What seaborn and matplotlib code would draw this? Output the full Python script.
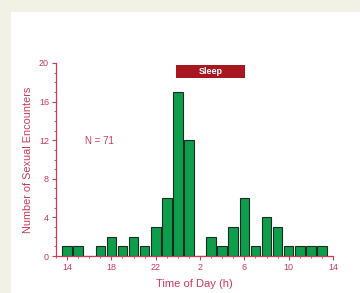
import matplotlib
matplotlib.use("Agg")
import matplotlib.pyplot as plt
from matplotlib.patches import Rectangle
from matplotlib.ticker import MultipleLocator
import seaborn as sns
import pandas as pd

# hours of the day, 14:00 through 13:00 next day (shifted past 24 for plotting)
hours = list(range(14, 38))
counts = [1, 1, 0, 1, 2, 1, 2, 1, 3, 6, 17, 12,
          0, 2, 1, 3, 6, 1, 4, 3, 1, 1, 1, 1]
hour_ticks = [14, 18, 22, 26, 30, 34, 38]
hour_labels = ["14", "18", "22", "2", "6", "10", "14"]
sleep_start, sleep_end = 23.85, 30.05

red = "#cc3a58"
bar_green = "#0d9e4c"
beige = "#f2f1e6"

sns.set_style("white")
plt.rcParams["font.family"] = ["Liberation Sans", "DejaVu Sans"]

df = pd.DataFrame({"hour": hours, "count": counts})

fig = plt.figure(figsize=(3.6, 2.93), dpi=100)
fig.patch.set_facecolor(beige)
panel = Rectangle((11 / 360, 0), 1, (293 - 12) / 293, transform=fig.transFigure,
                  facecolor="white", edgecolor="none", zorder=-10)
fig.add_artist(panel)
ax = fig.add_axes([56 / 360, (293 - 256) / 293, (333 - 56) / 360, (256 - 63) / 293])
ax.set_facecolor("none")

sns.barplot(data=df, x="hour", y="count", native_scale=True, width=0.87,
            color=bar_green, saturation=1, edgecolor="#1d2b20", linewidth=0.8, ax=ax)

ax.set_xlim(13, 38)
ax.set_ylim(0, 20)
ax.set_xticks(hour_ticks)
ax.set_xticklabels(hour_labels)
ax.xaxis.set_minor_locator(MultipleLocator(1))
ax.set_yticks([0, 4, 8, 12, 16, 20])
ax.yaxis.set_minor_locator(MultipleLocator(1))
ax.tick_params(axis="both", which="major", direction="out", length=3, width=0.8,
               color=red, labelcolor=red, labelsize=6.5, pad=2, bottom=True, left=True)
ax.tick_params(axis="both", which="minor", direction="out", length=1.5, width=0.6,
               color=red, bottom=True, left=True)

for side in ["top", "right"]:
    ax.spines[side].set_visible(False)
for side in ["left", "bottom"]:
    ax.spines[side].set_color(red)
    ax.spines[side].set_linewidth(0.9)

ax.set_xlabel("Time of Day (h)", color=red, fontsize=8, labelpad=5)
ax.set_ylabel("Number of Sexual Encounters", color=red, fontsize=7.8, labelpad=4)

ax.text(15.65, 11.9, "N = 71", color=red, fontsize=7, va="center", ha="left")

ax.add_patch(Rectangle((sleep_start, 18.4), sleep_end - sleep_start, 1.4,
                       facecolor="#a8161f", edgecolor="none", zorder=3, clip_on=False))
ax.text((sleep_start + sleep_end) / 2, 19.1, "Sleep", color="white", fontsize=6.5,
        fontweight="bold", ha="center", va="center", zorder=4)

fig.savefig("out.png", dpi=100, facecolor=fig.get_facecolor())
